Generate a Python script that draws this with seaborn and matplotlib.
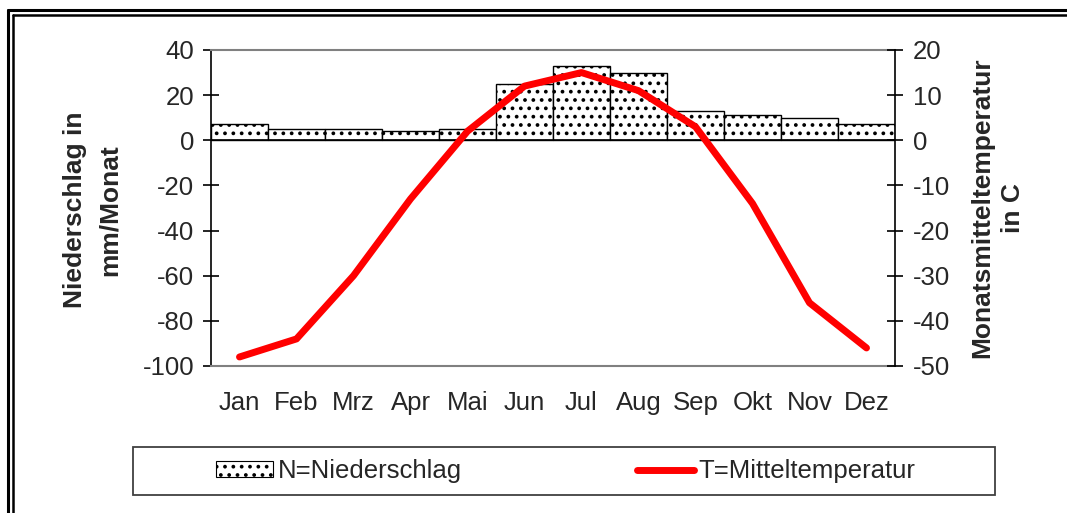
import numpy as np
import pandas as pd
import matplotlib
matplotlib.use("Agg")
import matplotlib.pyplot as plt
from matplotlib.patches import Patch, Rectangle
from matplotlib.lines import Line2D
import seaborn as sns

months = ["Jan", "Feb", "Mrz", "Apr", "Mai", "Jun", "Jul", "Aug", "Sep", "Okt", "Nov", "Dez"]
niederschlag = [7, 5, 5, 4, 5, 25, 33, 30, 13, 11, 10, 7]
temperatur = [-48, -44, -30, -13, 2, 12, 15, 11, 3, -14, -36, -46]
left_ticks = [-100, -80, -60, -40, -20, 0, 20, 40]
right_ticks = [-50, -40, -30, -20, -10, 0, 10, 20]

sns.set_style("white")
plt.rcParams['font.family'] = ['Liberation Sans', 'DejaVu Sans']
plt.rcParams['axes.unicode_minus'] = False
plt.rcParams['hatch.color'] = '#303030'
plt.rcParams['hatch.linewidth'] = 1.5

df = pd.DataFrame({"Monat": months, "N": niederschlag, "T": temperatur})

W, H = 1067, 513
fig = plt.figure(figsize=(W / 100, H / 100), dpi=100)
ax = fig.add_axes([211 / W, 1 - 366 / H, (895 - 211) / W, (366 - 50) / H])

sns.barplot(data=df, x="Monat", y="N", ax=ax, color="white", edgecolor="black",
            linewidth=1.0, width=1.0, hatch="..", saturation=1)
ax.set_xlim(-0.5, 11.5)
ax.set_ylim(-100, 40)
ax.set_yticks(left_ticks)
ax.axhline(0, color="black", lw=1.2, zorder=3)

ax2 = ax.twinx()
sns.lineplot(data=df, x="Monat", y="T", ax=ax2, color="#ff0000", lw=5, sort=False,
             solid_capstyle="round", solid_joinstyle="round")
ax2.set_ylim(-50, 20)
ax2.set_yticks(right_ticks)
ax2.set_xlim(-0.5, 11.5)

fs = 18.5
lfs = 19
for a in (ax, ax2):
    a.set_xlabel("")
    a.set_ylabel("")
    for s in a.spines.values():
        s.set_visible(False)
ax.spines["left"].set_visible(True)
ax.spines["left"].set_color("black")
ax.spines["left"].set_linewidth(1.2)
ax.spines["top"].set_visible(True)
ax.spines["top"].set_color("#808080")
ax.spines["top"].set_linewidth(1.5)
ax.spines["bottom"].set_visible(True)
ax.spines["bottom"].set_color("#808080")
ax.spines["bottom"].set_linewidth(1.5)
ax2.spines["right"].set_visible(True)
ax2.spines["right"].set_color("black")
ax2.spines["right"].set_linewidth(1.2)

ax.tick_params(axis="y", direction="inout", length=12, width=1.2, color="black",
               labelsize=fs, pad=6, left=True)
ax2.tick_params(axis="y", direction="inout", length=12, width=1.2, color="black",
                labelsize=fs, pad=7, right=True)
ax.tick_params(axis="x", length=0, labelsize=fs, pad=18)
ax2.tick_params(axis="x", length=0, labelbottom=False)

fig.text(75 / W, 1 - 210 / H, "Niederschlag in", rotation=90, ha="center", va="center",
         fontsize=lfs, fontweight="bold")
fig.text(110 / W, 1 - 210 / H, "mm/Monat", rotation=90, ha="center", va="center",
         fontsize=lfs, fontweight="bold")
fig.text(982 / W, 1 - 208 / H, "Monatsmitteltemperatur", rotation=90, ha="center", va="center",
         fontsize=lfs, fontweight="bold")
fig.text(1013 / W, 1 - 208 / H, "in C", rotation=90, ha="center", va="center",
         fontsize=lfs, fontweight="bold")

# legend frame
fig.patches.append(Rectangle((133 / W, 1 - 495 / H), 862 / W, 48 / H, transform=fig.transFigure,
                             fill=False, edgecolor="#404040", lw=1.3))
handles = [Patch(facecolor="white", edgecolor="black", hatch="..", lw=0.8),
           Line2D([0], [0], color="#ff0000", lw=5, solid_capstyle="round")]
fig.legend(handles, ["N=Niederschlag", "T=Mitteltemperatur"], loc="center",
           bbox_to_anchor=(566 / W, 1 - 471 / H), ncol=2, frameon=False, fontsize=fs,
           handlelength=2.2, handleheight=0.55, handletextpad=0.2, columnspacing=6.8,
           borderpad=0)

# outer double frame (top and left)
for (x, y, lw) in [(8, 10, 2.2), (13, 15, 1.8)]:
    fig.add_artist(Line2D([x / W, 1], [1 - y / H, 1 - y / H], transform=fig.transFigure,
                          color="black", lw=lw))
    fig.add_artist(Line2D([x / W, x / W], [1 - y / H, 0], transform=fig.transFigure,
                          color="black", lw=lw))

fig.savefig("out.png", dpi=100)
